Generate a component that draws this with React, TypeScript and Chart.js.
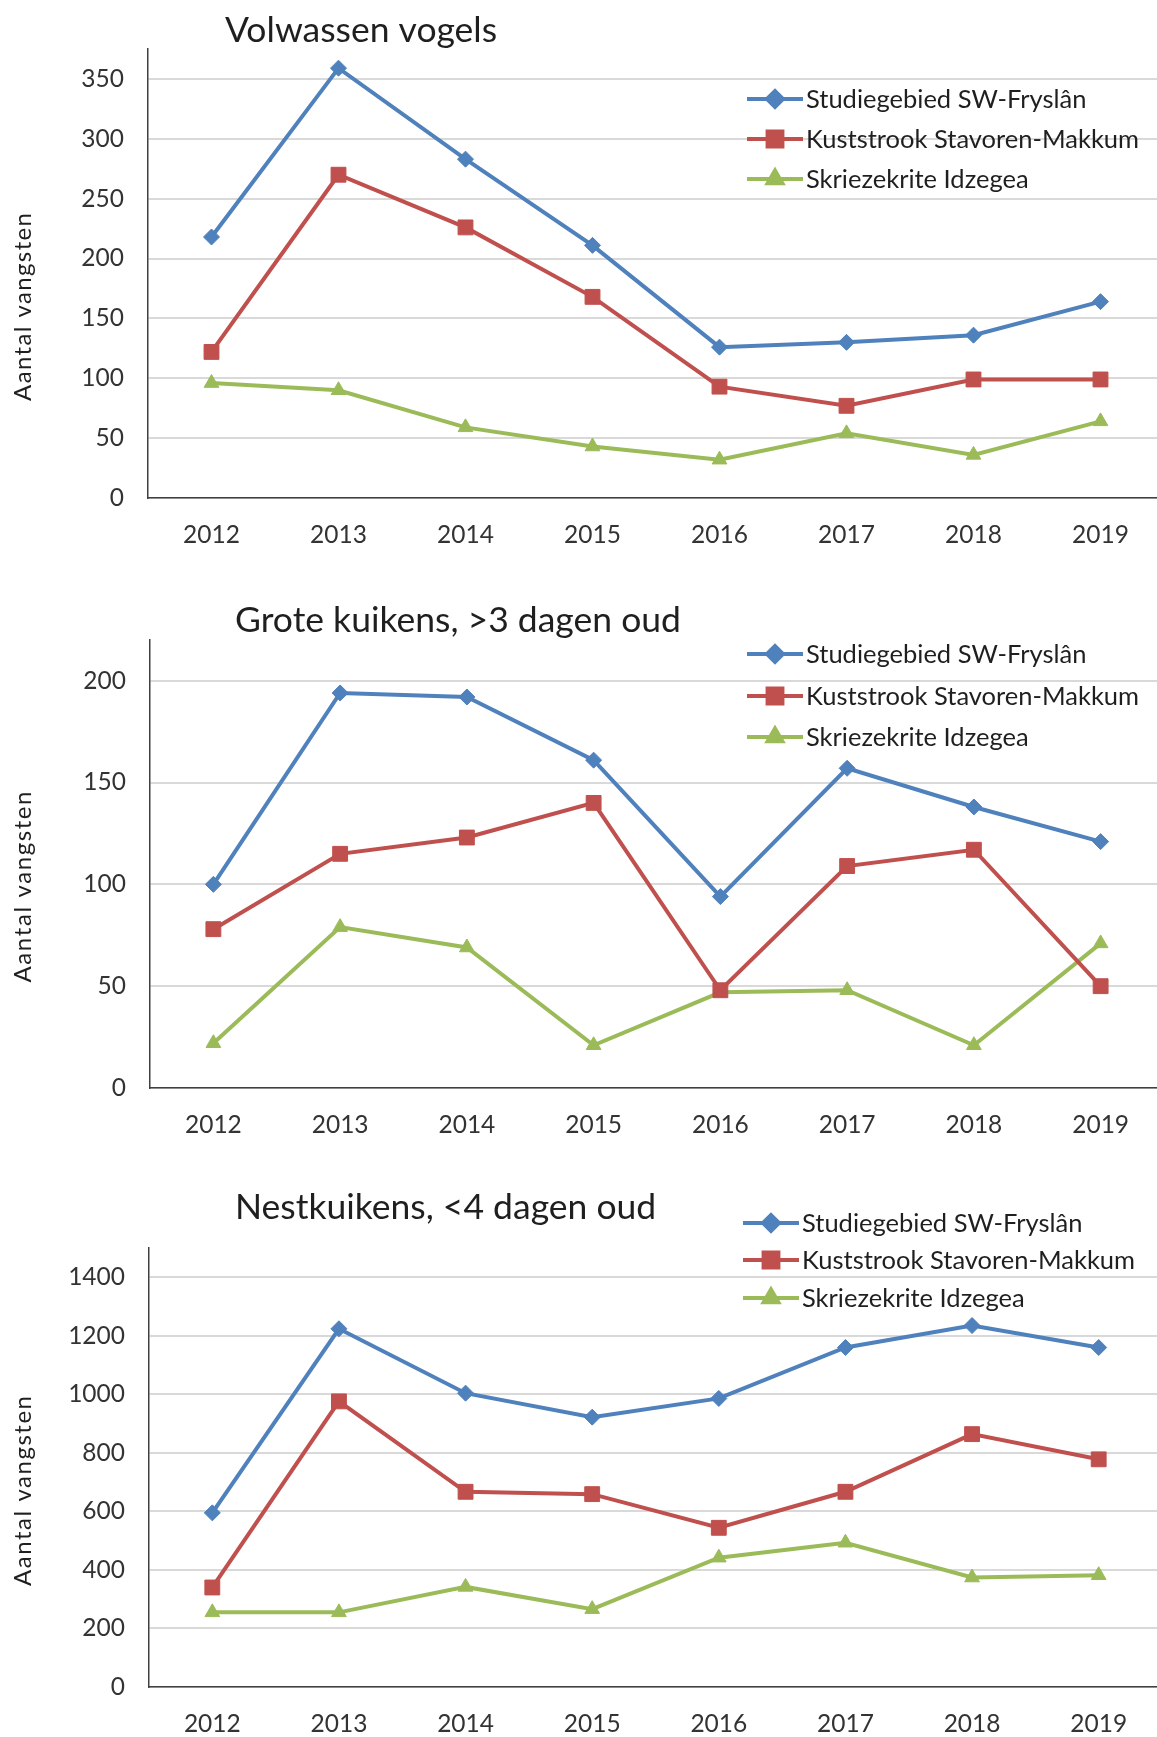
import React, { useEffect, useRef } from "react";
import { Chart, registerables } from "chart.js";
import { drawPoint } from "chart.js/helpers";

Chart.register(...registerables);

// ---------- data ----------
const years = ["2012", "2013", "2014", "2015", "2016", "2017", "2018", "2019"];
const seriesNames = [
  "Studiegebied SW-Fryslân",
  "Kuststrook Stavoren-Makkum",
  "Skriezekrite Idzegea",
];
const yAxisTitle = "Aantal vangsten";

const adultTitle = "Volwassen vogels";
const adultStudy = [218, 359, 283, 211, 126, 130, 136, 164];
const adultCoast = [122, 270, 226, 168, 93, 77, 99, 99];
const adultIdzegea = [96, 90, 59, 43, 32, 54, 36, 64];

const largeTitle = "Grote kuikens, >3 dagen oud";
const largeStudy = [100, 194, 192, 161, 94, 157, 138, 121];
const largeCoast = [78, 115, 123, 140, 48, 109, 117, 50];
const largeIdzegea = [22, 79, 69, 21, 47, 48, 21, 71];

const nestTitle = "Nestkuikens, <4 dagen oud";
const nestStudy = [595, 1224, 1004, 922, 986, 1160, 1235, 1160];
const nestCoast = [340, 976, 667, 659, 544, 667, 864, 778];
const nestIdzegea = [255, 255, 342, 266, 442, 493, 374, 382];

// ---------- styles ----------
const FONT = "Lato, 'Open Sans', sans-serif";
const TEXT = "#1f1f1f";
const TICK = "#333333";
const AXIS = "#404040";
const GRID = "#d9d9d9";
const COLORS = ["#4f81bd", "#c0504d", "#9bbb59"];
const STYLES = ["rectRot", "rect", "triangle"];
const RADII = [8, 10.5, 8.5];

type Cfg = {
  title: string;
  values: number[][];
  max: number;
  step: number;
  top: number;
  width: number;
  height: number;
  plotTop: number;
  plotBottom: number;
  plotLeft: number;
  titleX: number;
  titleY: number;
  legendX: number;
  legendRows: number[];
  axisTitleY: number;
  axisTitleLen: number;
};

const charts: Cfg[] = [
  {
    title: adultTitle,
    values: [adultStudy, adultCoast, adultIdzegea],
    max: 375,
    step: 50,
    top: 0,
    width: 1164,
    height: 590,
    plotTop: 49,
    plotBottom: 498,
    plotLeft: 148,
    titleX: 225,
    titleY: 31,
    legendX: 747,
    legendRows: [99, 139, 179],
    axisTitleY: 307,
    axisTitleLen: 188,
  },
  {
    title: largeTitle,
    values: [largeStudy, largeCoast, largeIdzegea],
    max: 220,
    step: 50,
    top: 590,
    width: 1164,
    height: 560,
    plotTop: 50,
    plotBottom: 498,
    plotLeft: 150,
    titleX: 235,
    titleY: 31,
    legendX: 747,
    legendRows: [64, 106, 147],
    axisTitleY: 297,
    axisTitleLen: 191,
  },
  {
    title: nestTitle,
    values: [nestStudy, nestCoast, nestIdzegea],
    max: 1500,
    step: 200,
    top: 1150,
    width: 1162,
    height: 587,
    plotTop: 98,
    plotBottom: 537,
    plotLeft: 149,
    titleX: 235,
    titleY: 58,
    legendX: 743,
    legendRows: [73, 110, 148],
    axisTitleY: 341,
    axisTitleLen: 190,
  },
];

const overlayPlugin = {
  id: "overlay",
  afterDraw(chart: any, _args: any, opts: any) {
    const ctx: any = chart.ctx;
    ctx.save();
    // title
    ctx.fillStyle = TEXT;
    ctx.font = `35.5px ${FONT}`;
    ctx.textAlign = "left";
    ctx.textBaseline = "middle";
    ctx.fillText(opts.title, opts.titleX, opts.titleY);
    // y axis title
    ctx.save();
    ctx.translate(23, opts.axisTitleY);
    ctx.rotate(-Math.PI / 2);
    ctx.textAlign = "left";
    ctx.font = `24px ${FONT}`;
    ctx.fillStyle = TEXT;
    const natural = ctx.measureText(yAxisTitle).width;
    const gap = Math.max(0, (opts.axisTitleLen - natural) / (yAxisTitle.length - 1));
    if ("letterSpacing" in ctx) ctx.letterSpacing = `${gap}px`;
    ctx.fillText(yAxisTitle, -opts.axisTitleLen / 2, 0);
    if ("letterSpacing" in ctx) ctx.letterSpacing = "0px";
    ctx.restore();
    // legend
    chart.data.datasets.forEach((ds: any, i: number) => {
      const y = opts.legendRows[i];
      const x = opts.legendX;
      ctx.strokeStyle = ds.borderColor;
      ctx.lineWidth = 4;
      ctx.beginPath();
      ctx.moveTo(x, y);
      ctx.lineTo(x + 56, y);
      ctx.stroke();
      ctx.fillStyle = ds.pointBackgroundColor;
      ctx.strokeStyle = ds.pointBorderColor;
      drawPoint(ctx, { pointStyle: ds.pointStyle, radius: ds.pointRadius, rotation: 0, borderWidth: 1 } as any, x + 28, y);
      ctx.fillStyle = TEXT;
      ctx.font = `25.5px ${FONT}`;
      ctx.textAlign = "left";
      ctx.textBaseline = "middle";
      ctx.fillText(ds.label, x + 59, y + 1);
    });
    ctx.restore();
  },
};

function LineChart({ cfg }: { cfg: Cfg }) {
  const ref = useRef<HTMLCanvasElement>(null);
  useEffect(() => {
    const chart = new Chart(ref.current!, {
      type: "line",
      data: {
        labels: years,
        datasets: cfg.values.map((vals, i) => ({
          label: seriesNames[i],
          data: vals,
          borderColor: COLORS[i],
          backgroundColor: COLORS[i],
          pointBackgroundColor: COLORS[i],
          pointBorderColor: COLORS[i],
          pointBorderWidth: 1,
          pointStyle: STYLES[i] as any,
          pointRadius: RADII[i],
          pointHoverRadius: RADII[i],
          borderWidth: 4,
          tension: 0,
          fill: false,
        })),
      },
      options: {
        responsive: false,
        animation: false,
        layout: {
          autoPadding: false,
          padding: { top: cfg.plotTop, left: 0, right: 0, bottom: 0 },
        },
        plugins: {
          legend: { display: false },
          title: { display: false },
          tooltip: { enabled: false },
          overlay: {
            title: cfg.title,
            titleX: cfg.titleX,
            titleY: cfg.titleY,
            legendX: cfg.legendX,
            legendRows: cfg.legendRows,
            axisTitleY: cfg.axisTitleY,
            axisTitleLen: cfg.axisTitleLen,
          },
        } as any,
        scales: {
          x: {
            type: "category",
            offset: true,
            grid: { display: false, drawTicks: false },
            border: { display: true, color: AXIS, width: 1.5 },
            ticks: { color: TICK, font: { family: FONT, size: 24.5 }, padding: 22, maxRotation: 0 },
            afterFit: (s: any) => {
              s.height = cfg.height - cfg.plotBottom;
              s.paddingLeft = 0;
              s.paddingRight = 0;
            },
          },
          y: {
            min: 0,
            max: cfg.max,
            ticks: {
              stepSize: cfg.step,
              includeBounds: false,
              padding: 24,
              color: TICK,
              font: { family: FONT, size: 24.5 },
              callback: (v: any) => String(v),
            },
            grid: { color: GRID, lineWidth: 2, drawTicks: false },
            border: { display: true, color: AXIS, width: 1.5 },
            afterFit: (s: any) => {
              s.width = cfg.plotLeft;
            },
          },
        },
      },
      plugins: [overlayPlugin],
    });
    return () => chart.destroy();
  }, [cfg]);
  return (
    <canvas
      ref={ref}
      width={cfg.width}
      height={cfg.height}
      style={{ position: "absolute", left: 0, top: cfg.top, width: cfg.width, height: cfg.height }}
    />
  );
}

export default function App() {
  return (
    <div
      style={{
        position: "absolute",
        left: 0,
        top: 0,
        width: 1157,
        height: 1737,
        overflow: "hidden",
        background: "#ffffff",
      }}
    >
      {charts.map((c, i) => (
        <LineChart key={i} cfg={c} />
      ))}
    </div>
  );
}
